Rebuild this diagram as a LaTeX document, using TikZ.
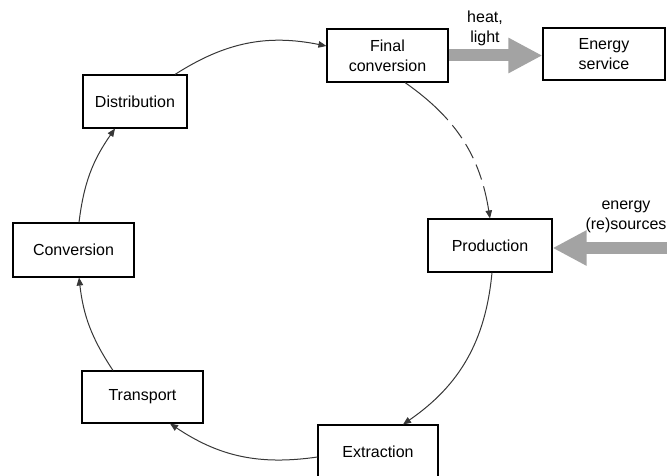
\documentclass[tikz,border=0pt]{standalone}
\usepackage{fontspec}
\setmainfont{Liberation Sans}
\usetikzlibrary{arrows.meta}
\definecolor{fatgray}{RGB}{163,163,163}
\definecolor{arcgray}{RGB}{55,55,55}
\begin{document}
\begin{tikzpicture}[x=1pt,y=1pt,
  stage/.style={draw=black, line width=1.1pt, fill=white, minimum height=53pt,
    align=center, font=\fontsize{16}{20}\selectfont, inner sep=0pt},
  txt/.style={align=center, font=\fontsize{16}{20}\selectfont, inner sep=0pt},
  ring/.style={draw=arcgray, line width=1pt, -{Triangle[length=8pt,width=6.5pt]}},
  fat/.style={draw=fatgray, line width=12pt, -{Triangle[length=34pt,width=33pt]}}]
\useasboundingbox (0,0) rectangle (667,475);

% stages of the energy chain
\node[stage, minimum width=121pt] (final) at (387.5,419.5) {Final\\conversion};
\node[stage, minimum width=122pt, minimum height=52pt] (energy) at (604,421) {Energy\\service};
\node[stage, minimum width=124pt] (prod) at (490,229.5) {Production};
\node[stage, minimum width=104pt] (dist) at (135,373.5) {Distribution};
\node[stage, minimum width=121pt, minimum height=54pt] (conv) at (73.5,225) {Conversion};
\node[stage, minimum width=121pt, minimum height=52pt] (trans) at (142.5,78) {Transport};
\node[stage, minimum width=120pt] (extr) at (378,23.5) {Extraction};

% inputs and outputs
\coordinate (res) at (690,227);
\draw[fat] (final.east) -- (final.east -| energy.west);
\draw[fat] (res) -- (prod.east |- res);
\node[txt] (heat) at (485,447) {heat,\\light};
\node[txt] (sources) at (626,258.5) {energy\\(re)sources};

% the cycle
\draw[ring] ([xshift=40pt]dist.north) to[bend left=22] ([yshift=9.5pt]final.west);
\draw[ring, dash pattern=on 57pt off 7pt on 16pt off 7pt on 16pt off 7pt on 16pt off 7pt on 60pt off 7pt]
  ([xshift=17.5pt]final.south) to[bend left=23] (prod.north);
\draw[ring] ([xshift=2pt]prod.south) to[bend left=25] ([xshift=25pt]extr.north);
\draw[ring] ([yshift=-5.5pt]extr.west) to[bend left=21] ([xshift=27.5pt]trans.south);
\draw[ring] ([xshift=-29.5pt]trans.north) to[bend left=13.5] ([xshift=5.5pt]conv.south);
\draw[ring] ([xshift=5.5pt]conv.north) to[bend left=14] ([xshift=-20pt]dist.south);
\end{tikzpicture}
\end{document}
